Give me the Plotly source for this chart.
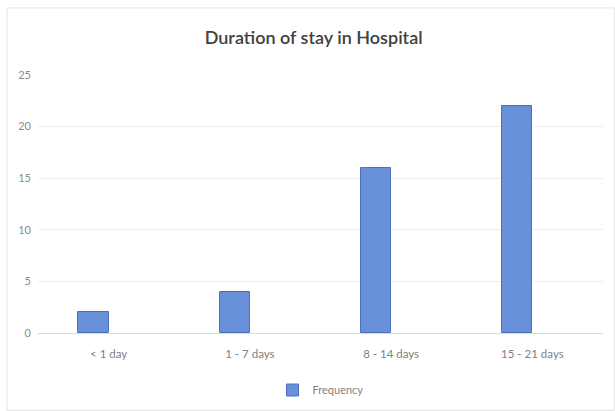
import plotly.graph_objects as go

categories = ["< 1 day", "1 - 7 days", "8 - 14 days", "15 - 21 days"]
frequency = [2, 4, 16, 22]
y_ticks = [0, 5, 10, 15, 20, 25]

fig = go.Figure()
fig.add_trace(go.Bar(
    x=categories, y=frequency, name="Frequency",
    width=0.215, offset=-0.215,
    marker=dict(color="#6890D8", line=dict(color="#4A72C0", width=1)),
))

fig.update_layout(
    width=615, height=411,
    margin=dict(l=38, r=12, t=75, b=78),
    paper_bgcolor="white", plot_bgcolor="white",
    font=dict(family="Lato, Open Sans, sans-serif", color="#7f7f7f", size=11),
    title=dict(text="Duration of stay in Hospital", x=0.51, xanchor="center",
               y=1 - 38 / 411, yanchor="middle", yref="container",
               font=dict(family="Lato, Open Sans, sans-serif", size=18, color="#404040", weight=600)),
    xaxis=dict(showgrid=False, showline=False, ticks="", ticklabelstandoff=12, automargin=False,
               tickfont=dict(size=11.5, color="#7f7f7f")),
    yaxis=dict(range=[0, 25], tickvals=y_ticks, showgrid=True, gridcolor="#eeeeee",
               zeroline=True, zerolinecolor="#d9d9d9", zerolinewidth=1, automargin=False,
               ticks="", tickfont=dict(size=11, color="#8c8c8c"), ticklabelstandoff=6),
    showlegend=True,
    legend=dict(orientation="h", x=0.5, xanchor="center", yref="container", y=1 - 390 / 411,
                yanchor="middle", bgcolor="rgba(0,0,0,0)",
                itemwidth=30, font=dict(size=11, color="#7f7f7f")),
    bargap=0,
    shapes=[dict(type="rect", xref="paper", yref="paper", x0=-0.055, x1=1.02, y0=-0.30, y1=1.26,
                 line=dict(color="#e3e3e3", width=1), fillcolor="rgba(0,0,0,0)", layer="below")],
)

fig.write_html("out.html")
